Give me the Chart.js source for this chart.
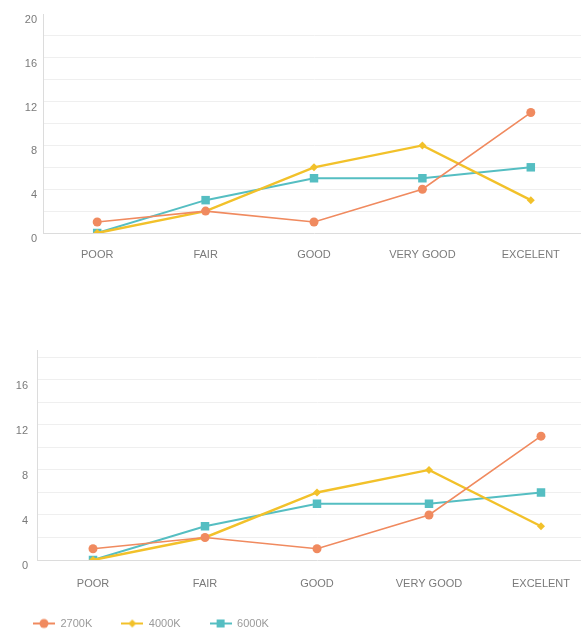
<!DOCTYPE html>
<html>
<head>
<meta charset="utf-8">
<script src="https://cdn.jsdelivr.net/npm/chart.js@4/dist/chart.umd.min.js"></script>
<style>
  html, body { margin: 0; padding: 0; background: #ffffff; overflow: hidden; width: 581px; height: 639px; }
  canvas { position: absolute; left: 0; display: block; }
  #topChart { top: 0; }
  #botChart { top: 335px; }
</style>
</head>
<body>
<canvas id="topChart" width="591" height="275"></canvas>
<canvas id="botChart" width="603" height="304"></canvas>
<script>
// Ratings per colour temperature
const categories = ['POOR', 'FAIR', 'GOOD', 'VERY GOOD', 'EXCELENT'];
const seriesNames = ['2700K', '4000K', '6000K'];
const values2700K = [1, 2, 1, 4, 11];
const values4000K = [0, 2, 6, 8, 3];
const values6000K = [0, 3, 5, 5, 6];
const topTickLabels = [0, 4, 8, 12, 16, 20];
const bottomTickLabels = [0, 4, 8, 12, 16];

const COLORS = ['#f08a5f', '#f2c12a', '#55bec2'];
const POINT_STYLES = ['circle', 'rectRot', 'rect'];
const POINT_RADII = [4.5, 4, 6];
const LINE_WIDTHS = [1.6, 2.4, 2];
const FONT = "'Liberation Sans', Arial, sans-serif";

function makeDatasets() {
  const all = [values2700K, values4000K, values6000K];
  return all.map((vals, i) => ({
    label: seriesNames[i],
    data: vals,
    borderColor: COLORS[i],
    backgroundColor: COLORS[i],
    borderWidth: LINE_WIDTHS[i],
    pointStyle: POINT_STYLES[i],
    pointRadius: POINT_RADII[i],
    pointBorderWidth: 0,
    pointBackgroundColor: COLORS[i],
    tension: 0,
    fill: false
  }));
}

// Legend swatch: short line with the series marker in the middle
function legendSwatch(i) {
  const c = document.createElement('canvas');
  c.width = 22; c.height = 12;
  const g = c.getContext('2d');
  g.strokeStyle = COLORS[i];
  g.lineWidth = 2;
  g.beginPath(); g.moveTo(0, 6); g.lineTo(22, 6); g.stroke();
  g.fillStyle = COLORS[i];
  if (i === 0) { g.beginPath(); g.arc(11, 6, 4.5, 0, Math.PI * 2); g.fill(); }
  else if (i === 1) { g.beginPath(); g.moveTo(11, 2); g.lineTo(15, 6); g.lineTo(11, 10); g.lineTo(7, 6); g.closePath(); g.fill(); }
  else { g.fillRect(7, 2, 8, 8); }
  return c;
}

function makeOptions(cfg) {
  return {
    responsive: false,
    animation: false,
    devicePixelRatio: 1,
    layout: { padding: cfg.padding },
    plugins: {
      tooltip: { enabled: false },
      legend: cfg.legend ? {
        display: true,
        position: 'bottom',
        align: 'start',
        labels: {
          usePointStyle: true,
          pointStyleWidth: 22,
          padding: 29,
          color: '#9a9a9a',
          font: { family: FONT, size: 11 },
          generateLabels: (chart) => chart.data.datasets.map((ds, i) => ({
            text: ds.label,
            pointStyle: legendSwatch(i),
            fillStyle: COLORS[i],
            strokeStyle: COLORS[i],
            lineWidth: 0,
            fontColor: '#9a9a9a',
            hidden: false,
            datasetIndex: i
          }))
        }
      } : { display: false }
    },
    scales: {
      x: {
        type: 'category',
        offset: true,
        grid: { display: false, drawTicks: false },
        border: { display: true, color: '#dcdcdc', width: 1 },
        ticks: {
          color: '#7a7a7a',
          font: { family: FONT, size: 11 },
          padding: cfg.xPad,
          maxRotation: 0,
          autoSkip: false
        },
        afterFit: (s) => { s.height = cfg.xHeight; }
      },
      y: {
        type: 'linear',
        min: 0,
        max: cfg.max,
        afterBuildTicks: (s) => {
          const out = [];
          for (let v = 0; v <= cfg.max; v += 2) out.push({ value: v });
          s.ticks = out;
        },
        grid: {
          drawTicks: false,
          color: (ctx) => (ctx.tick && (ctx.tick.value === 0 || ctx.tick.value === 20)) ? 'rgba(0,0,0,0)' : '#efefef',
          lineWidth: 1
        },
        border: { display: true, color: '#dcdcdc', width: 1 },
        ticks: {
          color: '#7a7a7a',
          font: { family: FONT, size: 11 },
          padding: cfg.yPad,
          labelOffset: 6,
          callback: (v) => cfg.tickLabels.includes(v) ? String(v) : ''
        },
        afterFit: (s) => { s.width = cfg.yWidth; }
      }
    }
  };
}

new Chart(document.getElementById('topChart'), {
  type: 'line',
  data: { labels: categories, datasets: makeDatasets() },
  options: makeOptions({
    padding: { top: 14, left: 0, right: 0, bottom: 0 },
    max: 20,
    tickLabels: topTickLabels,
    yWidth: 43,
    yPad: 6,
    xPad: 15,
    xHeight: 42,
    legend: false
  })
});

new Chart(document.getElementById('botChart'), {
  type: 'line',
  data: { labels: categories, datasets: makeDatasets() },
  options: makeOptions({
    padding: { top: 15, left: 4, right: 0, bottom: 0 },
    max: 18.6,
    tickLabels: bottomTickLabels,
    yWidth: 33,
    yPad: 9,
    xPad: 17,
    xHeight: 29,
    legend: true
  })
});
</script>
</body>
</html>
